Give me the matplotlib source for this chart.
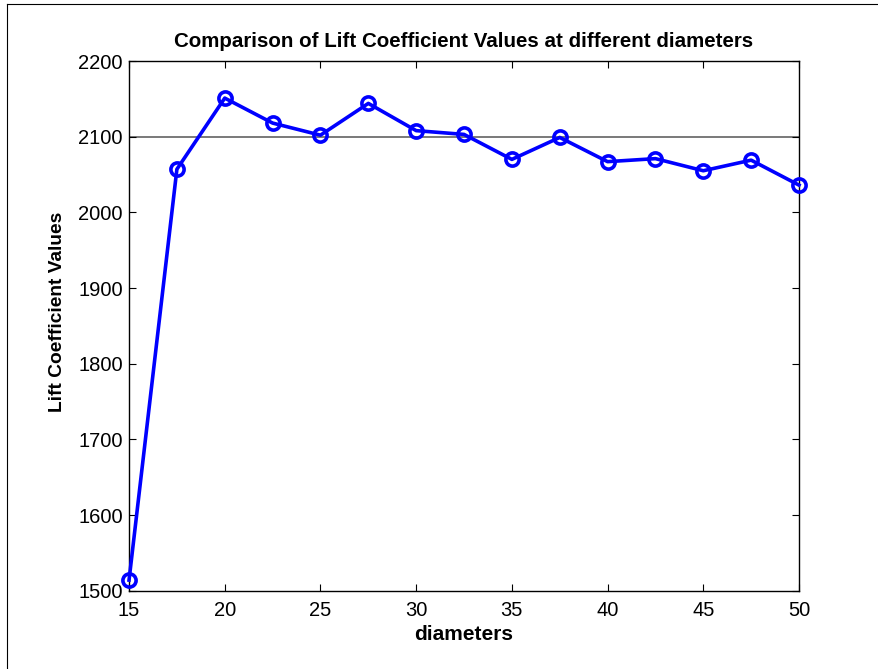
import matplotlib
matplotlib.use("Agg")
import matplotlib.pyplot as plt
from matplotlib.lines import Line2D

plt.rcParams['font.family'] = ['Liberation Sans', 'DejaVu Sans']

diameters = [15, 17.5, 20, 22.5, 25, 27.5, 30, 32.5, 35, 37.5, 40, 42.5, 45, 47.5, 50]
lift_values = [1514, 2057, 2151, 2118, 2102, 2144, 2108, 2103, 2070, 2099, 2067, 2071, 2055, 2069, 2036]
reference_level = 2100
x_ticks = [15, 20, 25, 30, 35, 40, 45, 50]
y_ticks = [1500, 1600, 1700, 1800, 1900, 2000, 2100, 2200]

fig = plt.figure(figsize=(8.79, 6.69), dpi=100)
ax = fig.add_axes([0.1468, 0.117, 0.909 - 0.1468, 0.9088 - 0.117])

ax.axhline(reference_level, color='#555555', linewidth=1.1, zorder=1)
ax.plot(diameters, lift_values, color='#0000ff', linewidth=2.6,
        marker='o', markersize=9.5, markerfacecolor='none',
        markeredgecolor='#0000ff', markeredgewidth=2.6, zorder=3, clip_on=False)

ax.set_xlim(15, 50)
ax.set_ylim(1500, 2200)
ax.set_xticks(x_ticks)
ax.set_yticks(y_ticks)
ax.tick_params(direction='in', length=5, width=0.8, labelsize=14.5,
               top=True, right=True, colors='black')
ax.tick_params(axis='x', pad=7.5)
ax.tick_params(axis='y', pad=4.5)
for s in ax.spines.values():
    s.set_linewidth(1.0)

ax.set_title('Comparison of Lift Coefficient Values at different diameters',
             fontsize=14.8, fontweight='bold', pad=10)
ax.set_xlabel('diameters', fontsize=15, fontweight='bold', labelpad=3.5)
ax.set_ylabel('Lift Coefficient Values', fontsize=13.8, fontweight='bold')
ax.yaxis.set_label_coords(-0.094, 0.527)

# frame edges along the top and left of the figure
fig.add_artist(Line2D([7 / 879, 7 / 879], [0, 1 - 4 / 669], transform=fig.transFigure,
                      color='black', linewidth=0.8))
fig.add_artist(Line2D([7 / 879, 1], [1 - 4 / 669, 1 - 4 / 669], transform=fig.transFigure,
                      color='black', linewidth=0.8))

fig.savefig('out.png', dpi=100, facecolor='white')
